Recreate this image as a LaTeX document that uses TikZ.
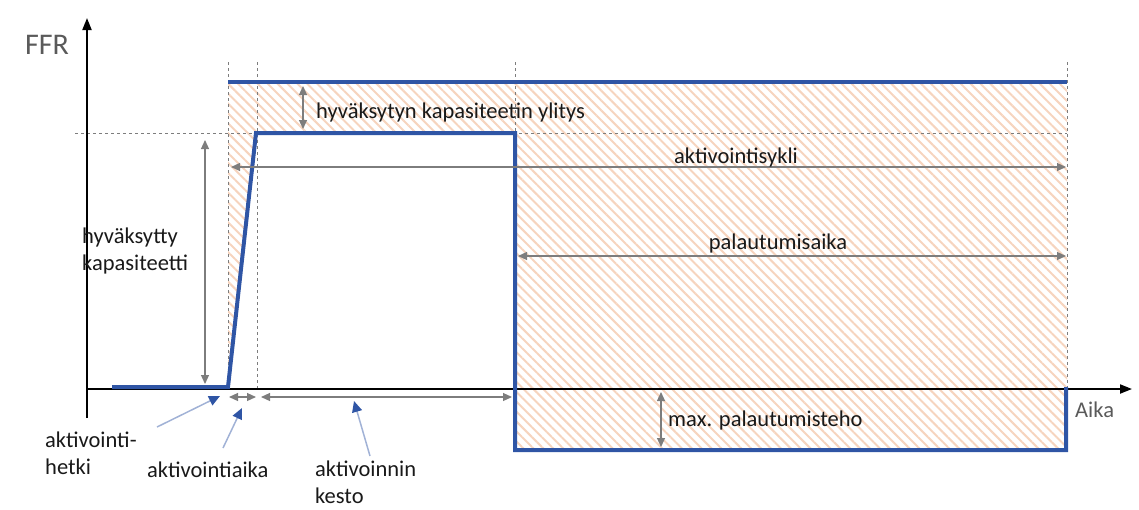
\documentclass[tikz,border=0pt]{standalone}
\usepackage{fontspec}
\setmainfont{Carlito}
\usetikzlibrary{arrows.meta,patterns.meta,positioning}
\definecolor{ffrblue}{RGB}{47,85,165}
\definecolor{hatchorange}{RGB}{246,212,190}
\definecolor{dimgray}{RGB}{125,125,125}
\definecolor{labelgray}{RGB}{90,90,90}
\tikzset{
  axis/.style={black, line width=2pt, -{Triangle[length=12pt,width=9pt]}},
  pulse/.style={ffrblue, line width=4pt, line join=miter},
  guide/.style={dimgray, dashed, dash pattern=on 3pt off 3pt, line width=0.7pt},
  dimarrow/.style={dimgray, line width=1.2pt, {Triangle[length=9pt,width=8pt]}-{Triangle[length=9pt,width=8pt]}},
  callout/.style={ffrblue!45, line width=1.5pt, -{Triangle[length=11pt,width=10pt,color=ffrblue]}},
  lbl/.style={font=\fontsize{22.5}{27}\selectfont, text=black!90, inner sep=0pt, align=left},
}

\begin{document}
\begin{tikzpicture}[x=1pt,y=-1pt]
  \useasboundingbox (0,0) rectangle (1139,509);
  % hatched area
  \fill[pattern={Lines[angle=-45,distance=7pt,line width=2pt]}, pattern color=hatchorange]
    (228,82) -- (1067,82) -- (1067,450) -- (515,450) -- (515,133) -- (256,133) -- (228,387) -- cycle;

  % guide lines
  \draw[guide] (228,62) -- (228,387);
  \draw[guide] (257,62) -- (257,390);
  \draw[guide] (515,62) -- (515,133);
  \draw[guide] (1067,62) -- (1067,387);
  \draw[guide] (75,133) -- (1067,133);

  % axes
  \coordinate (ybot) at (87,418);
  \coordinate (ytop) at (87,18);
  \coordinate (xstart) at (87,389);
  \coordinate (xend) at (1132,389);
  \draw[axis] (ybot) -- (ytop);
  \draw[axis] (xstart) -- (xend);
  \node[font=\fontsize{30}{33}\selectfont, text=labelgray, inner sep=0pt] (ffr) at (47,45) {FFR};
  \node[lbl, text=labelgray, anchor=west] (aika) at (1075,410) {Aika};

  % response curve
  \coordinate (p0) at (112,387);
  \coordinate (p1) at (228,387);
  \coordinate (p2) at (256,133);
  \coordinate (p3) at (515,133);
  \coordinate (p4) at (515,450);
  \coordinate (p5) at (1066,450);
  \coordinate (p6) at (1066,387);
  \draw[pulse] (p0) -- (p1) -- (p2) -- (p3) -- (p4) -- (p5) -- (p6);
  \draw[pulse] (228,82) -- (1067,82);

  % dimension arrows
  \draw[dimarrow] (205,140) -- (205,384);
  \draw[dimarrow] (303,86) -- (303,129);
  \draw[dimarrow] (231,167) -- (1066,167);
  \draw[dimarrow] (518,256) -- (1066,256);
  \draw[dimarrow] (229,397) -- (256,397);
  \draw[dimarrow] (261,397) -- (512,397);
  \draw[dimarrow] (661,392) -- (661,447);

  % labels
  \node[lbl, anchor=west] (ylitys) at (316,112) {hyväksytyn kapasiteetin ylitys};
  \node[lbl] (sykli) at (736,157) {aktivointisykli};
  \node[lbl] (palaut) at (778,243) {palautumisaika};
  \node[lbl, anchor=west] (kapas) at (82,251) {hyväksytty\\kapasiteetti};
  \node[lbl, anchor=west] (teho) at (668,420) {max. palautumisteho};
  \node[lbl, anchor=west] (hetki) at (45,453) {aktivointi-\\hetki};
  \node[lbl, anchor=west] (aikaa) at (147,470) {aktivointiaika};
  \node[lbl, anchor=west] (kesto) at (315,482) {aktivoinnin\\kesto};

  % callouts
  \coordinate (hetkitip) at (220,396);
  \coordinate (aikaatip) at (242,408);
  \coordinate (kestotip) at (354,401);
  \draw[callout] (157,427) -- (hetkitip);
  \draw[callout] (223,448) -- (aikaatip);
  \draw[callout] (370,456) -- (kestotip);
\end{tikzpicture}
\end{document}
